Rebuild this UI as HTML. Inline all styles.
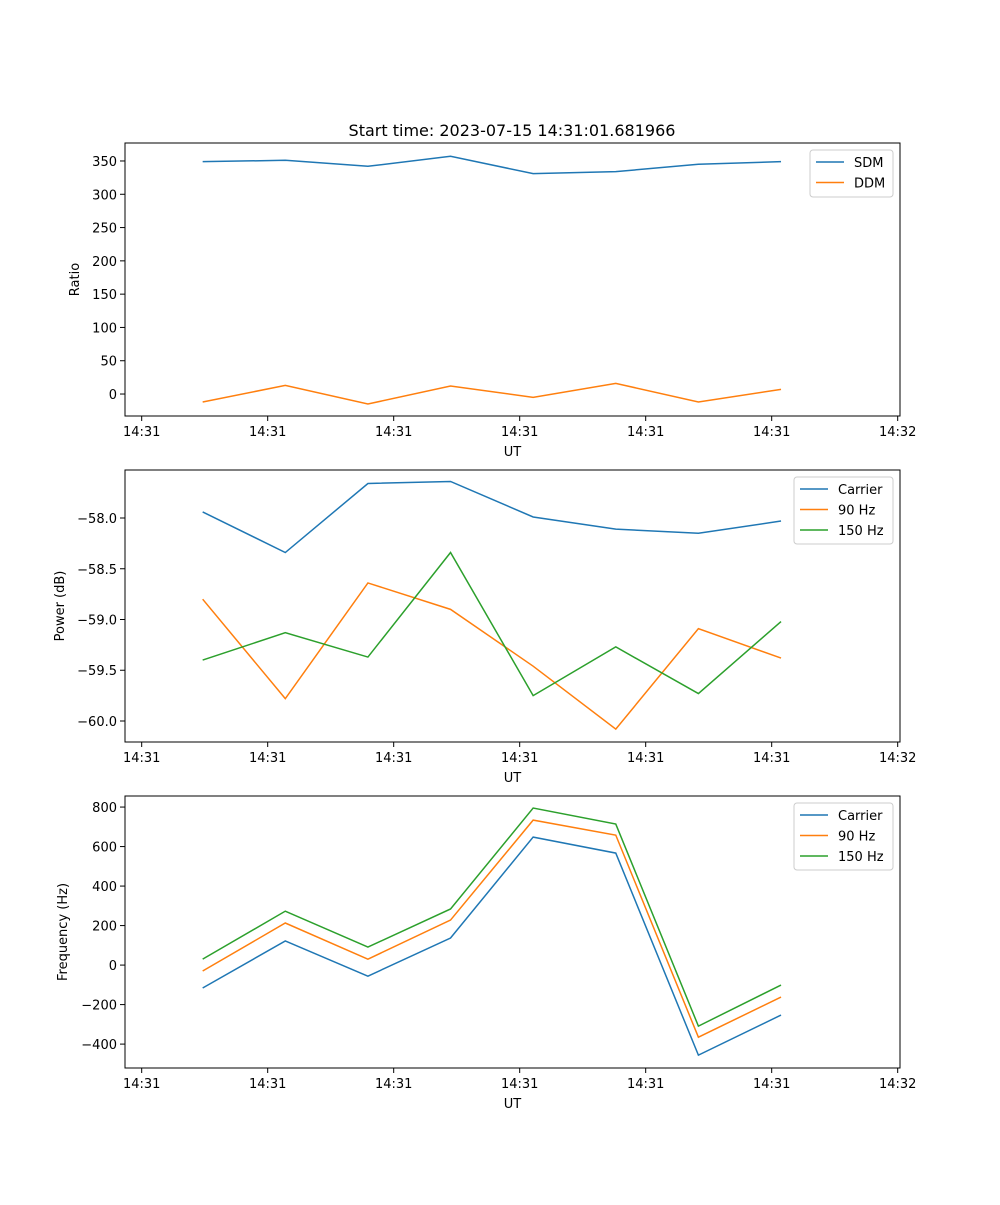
<!DOCTYPE html>
<html><head><meta charset="utf-8"><style>
body{margin:0;background:#fff}
svg text{font-family:"DejaVu Sans","Liberation Sans",sans-serif;fill:#000}
</style></head><body>
<svg id="fig" width="1000" height="1200" viewBox="0 0 1000 1200" xmlns="http://www.w3.org/2000/svg">
<rect width="1000" height="1200" fill="#fff"/>
<text x="512" y="136" font-size="16" text-anchor="middle">Start time: 2023-07-15 14:31:01.681966</text>
</svg>
<script>
const xTickLabels = ["14:31","14:31","14:31","14:31","14:31","14:31","14:32"];
const sdm = [349,351,342,357,331,334,345,349];
const ddm = [-12,13,-15,12,-5,16,-12,7];
const carrierPow = [-57.94,-58.34,-57.66,-57.64,-57.99,-58.11,-58.15,-58.03];
const hz90Pow = [-58.80,-59.78,-58.64,-58.90,-59.46,-60.08,-59.09,-59.38];
const hz150Pow = [-59.40,-59.13,-59.37,-58.34,-59.75,-59.27,-59.73,-59.02];
const carrierFreq = [-116,122,-56,137,648,567,-456,-253];
const hz90Freq = [-30,213,30,228,734,658,-365,-162];
const hz150Freq = [30,273,91,284,795,714,-309,-101];
const yTicks1 = [0,50,100,150,200,250,300,350];
const yTicks2 = [-60.0,-59.5,-59.0,-58.5,-58.0];
const yTicks3 = [-400,-200,0,200,400,600,800];

const NS="http://www.w3.org/2000/svg";
const svg=document.getElementById('fig');
const C=['#1f77b4','#ff7f0e','#2ca02c'];
function mk(t,a,p){const e=document.createElementNS(NS,t);for(const k in a)e.setAttribute(k,a[k]);(p||svg).appendChild(e);return e;}
const L=125,R=900,xmin=-0.94,xmax=8.44;
const sx=i=>L+(i-xmin)/(xmax-xmin)*(R-L);
function panel(top,bot,ymin,ymax,yt,fmt,ylabel,series,names,legW,name){
  const g=mk('g',{});
  
  
  const sy=v=>bot-(v-ymin)/(ymax-ymin)*(bot-top);
  for(let k=0;k<xTickLabels.length;k++){
    const x=sx(-0.738+1.525*k);
    mk('line',{x1:x,x2:x,y1:bot,y2:bot+5,stroke:'#000','stroke-width':1},g);
    const t=mk('text',{x:x,y:bot+20,'font-size':13,'text-anchor':'middle'},g);t.textContent=xTickLabels[k];
    
    
  }
  const xl=mk('text',{x:(L+R)/2,y:bot+40,'font-size':13,'text-anchor':'middle'},g);xl.textContent='UT';
  
  
  for(const v of yt){
    const y=sy(v);
    mk('line',{x1:L-5,x2:L,y1:y,y2:y,stroke:'#000','stroke-width':1},g);
    const t=mk('text',{x:L-8,y:y+5,'font-size':13,'text-anchor':'end'},g);t.textContent=fmt(v);
    
    
  }
  const yl=mk('text',{x:0,y:0,'font-size':13,'text-anchor':'middle',transform:`translate(${ylabel[1]},${(top+bot)/2}) rotate(-90)`},g);yl.textContent=ylabel[0];
  
  
  series.forEach((s,j)=>{
    const p=mk('polyline',{points:s.map((v,i)=>sx(i)+','+sy(v)).join(' '),fill:'none',stroke:C[j],'stroke-width':1.5},g);
    
    
  });
  mk('rect',{x:L,y:top,width:R-L,height:bot-top,fill:'none',stroke:'#000','stroke-width':1},g);
  const lx=R-7-legW,ly=top+7;
  const lg=mk('g',{},g);
  
  
  mk('rect',{x:lx,y:ly,width:legW,height:7+names.length*20,rx:3,fill:'#fff',stroke:'#ccc','fill-opacity':0.8},lg);
  names.forEach((n,j)=>{
    const y=ly+12+j*20.5;
    mk('line',{x1:lx+6,x2:lx+34,y1:y,y2:y,stroke:C[j],'stroke-width':1.5},lg);
    const t=mk('text',{x:lx+44,y:y+5,'font-size':13},lg);t.textContent=n;
    
    
  });
}
panel(143,416,-33,377,yTicks1,v=>String(v),['Ratio',79],[sdm,ddm],['SDM','DDM'],83,'ratio-panel');
panel(470,742,-60.207,-57.527,yTicks2,v=>'\u2212'+Math.abs(v).toFixed(1),['Power (dB)',64],[carrierPow,hz90Pow,hz150Pow],['Carrier','90 Hz','150 Hz'],99,'power-panel');
panel(796,1068,-521,856,yTicks3,v=>(v<0?'\u2212'+(-v):String(v)),['Frequency (Hz)',67],[carrierFreq,hz90Freq,hz150Freq],['Carrier','90 Hz','150 Hz'],99,'frequency-panel');
</script>
</body></html>
